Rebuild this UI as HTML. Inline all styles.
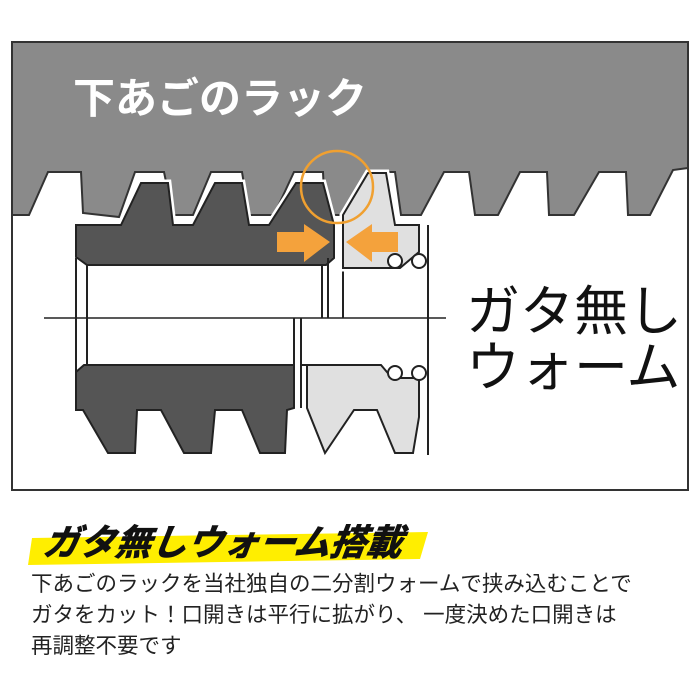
<!DOCTYPE html>
<html><head><meta charset="utf-8"><style>
html,body{margin:0;padding:0;background:#fff;width:700px;height:700px;overflow:hidden}
svg{display:block}
.t{font-family:"Liberation Sans","Noto Sans CJK JP",sans-serif}
</style></head><body>
<svg width="700" height="700" viewBox="0 0 700 700" xmlns="http://www.w3.org/2000/svg">
<rect x="12" y="42" width="676" height="448" fill="#fff" stroke="#333" stroke-width="2"/>
<!-- rack -->
<path d="M12,42 H688 V168 L673,170 L650,215 H628 L626,172 H599 L574,215 H549 L547,172 H520 L498,215 H475 L469,172 H444 L421,215 H401 L395,172 H368 L341,215 H325 L323,172 H294 L274,215 H249 L242,172 H211 L193,215 H173 L164,172 H135 L119,217 L83,213 L81,172 H48 L29,215 H12 Z" fill="#8a8a8a" stroke="#333" stroke-width="2"/>
<text x="73" y="113" class="t" font-size="42" font-weight="bold" fill="#fff">下あごのラック</text>
<!-- dark worm upper -->
<path d="M76,225 H121 L141,183 H168 L173,225 H193 L215,183 H242 L249,225 H269 L296,183 H323 L334,225 V258 L326,265 H87 L76,257 Z" fill="none" stroke="#fff" stroke-width="7"/>
<path d="M76,225 H121 L141,183 H168 L173,225 H193 L215,183 H242 L249,225 H269 L296,183 H323 L334,225 V258 L326,265 H87 L76,257 Z" fill="#555" stroke="#222" stroke-width="2"/>
<!-- dark worm lower -->
<path d="M76,372 L84,365 H294 V408 L287,410 L285,453 H260 L242,410 H215 L211,453 H184 L161,410 H137 L135,453 H108 L83,410 H76 Z" fill="#555" stroke="#222" stroke-width="2"/>
<!-- bore lines -->
<g stroke="#222" stroke-width="2" fill="none">
<path d="M76,258 V372 M87,265 V365 M322,265 V318 M328,258 V318 M343,268 V318 M294,318 V408 M301,318 V408"/>
<path d="M87,265 H326 M87,365 H294"/>
</g>
<!-- light worm upper -->
<path d="M343,215 L368,173 H386 L395,225 H419 V252 L400,268 H343 Z" fill="none" stroke="#fff" stroke-width="7"/>
<path d="M343,215 L368,173 H386 L395,225 H419 V252 L400,268 H343 Z" fill="#e0e0e0" stroke="#222" stroke-width="2"/>
<!-- light worm lower -->
<path d="M301,365 H381 L392,378 H419 V417 L413,453 H395 L377,410 H354 L325,453 L307,408 V365 Z" fill="#e0e0e0" stroke="#222" stroke-width="2"/>
<g fill="#fff" stroke="#222" stroke-width="2">
<circle cx="395" cy="261" r="7"/><circle cx="419" cy="261" r="7"/>
<circle cx="395" cy="373" r="7"/><circle cx="419" cy="373" r="7"/>
</g>
<path d="M428,225 V455" stroke="#222" stroke-width="2"/>
<path d="M44,318 H446" stroke="#222" stroke-width="1.5"/>
<!-- orange -->
<circle cx="337" cy="187" r="36" fill="none" stroke="#f0a030" stroke-width="2.5"/>
<path d="M277,232 H304 V224 L330,242 L304,262 V252 H277 Z" fill="#f4a23c"/>
<path d="M398,232 H372 V224 L346,242 L372,262 V252 H398 Z" fill="#f4a23c"/>
<text x="466" y="330" class="t" font-size="54" fill="#111">ガタ無し</text>
<text x="466" y="386" class="t" font-size="54" fill="#111">ウォーム</text>
<!-- bottom -->
<polygon points="32,538 428,532 420,559 28,565" fill="#ffee00"/>
<text x="42" y="555" class="t" font-size="36" font-weight="bold" font-style="italic" fill="#111" stroke="#111" stroke-width="0.8" transform="skewX(-8) translate(78,0)">ガタ無しウォーム搭載</text>
<g class="t" font-size="21.5" fill="#222">
<text x="31" y="591">下あごのラックを当社独自の二分割ウォームで挟み込むことで</text>
<text x="31" y="622">ガタをカット！口開きは平行に拡がり、 一度決めた口開きは</text>
<text x="31" y="653">再調整不要です</text>
</g>
</svg>
</body></html>
